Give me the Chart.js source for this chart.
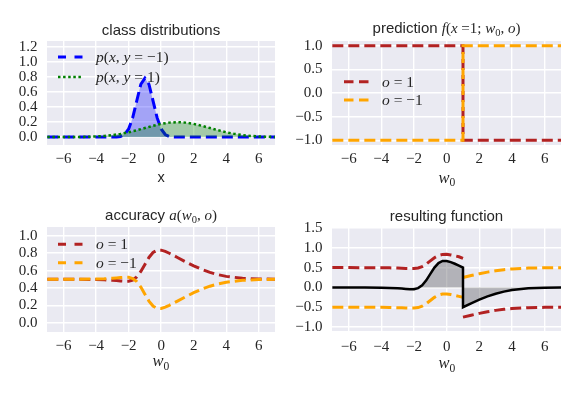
<!DOCTYPE html>
<html><head><meta charset="utf-8">
<script src="https://cdn.jsdelivr.net/npm/chart.js@4/dist/chart.umd.min.js"></script>
<style>
html,body{margin:0;padding:0;background:#fff;width:581px;height:394px;overflow:hidden}
canvas{position:absolute;left:0;top:0}
</style></head>
<body>
<canvas id="c1" width="581" height="394"></canvas>
<canvas id="c2" width="581" height="394"></canvas>
<canvas id="c3" width="581" height="394"></canvas>
<canvas id="c4" width="581" height="394"></canvas>
<script>
// ---------------- data ----------------
const xTicks = [-6, -4, -2, 0, 2, 4, 6];
const yTicksDist = [0.0, 0.2, 0.4, 0.6, 0.8, 1.0, 1.2];
const yTicksPred = [-1.0, -0.5, 0.0, 0.5, 1.0];
const yTicksAcc = [0.0, 0.2, 0.4, 0.6, 0.8, 1.0];
const yTicksRes = [-1.0, -0.5, 0.0, 0.5, 1.0, 1.5];

// class distributions
const xNeg = [-7, -6, -5, -4, -3.5, -3, -2.75, -2.5, -2.25, -2, -1.75, -1.5, -1.25, -1, -0.75, -0.5, -0.25, 0, 0.25, 0.5, 0.75, 1, 1.5, 2, 3, 4, 5, 6, 7];
const pNeg = [0, 0, 0, 0, 0, 0.0003, 0.0017, 0.0089, 0.035, 0.108, 0.259, 0.484, 0.704, 0.785, 0.704, 0.484, 0.259, 0.108, 0.035, 0.0089, 0.0017, 0.0003, 0, 0, 0, 0, 0, 0, 0];
const xPos = [-7, -6.5, -6, -5.5, -5, -4.5, -4, -3.5, -3, -2.5, -2, -1.5, -1, -0.5, 0, 0.5, 1, 1.5, 2, 2.5, 3, 3.5, 4, 4.5, 5, 5.5, 6, 6.5, 7];
const pPos = [0.0001, 0.0002, 0.0004, 0.001, 0.0022, 0.0045, 0.0088, 0.0159, 0.027, 0.0432, 0.0648, 0.0913, 0.121, 0.1506, 0.176, 0.193, 0.1995, 0.193, 0.176, 0.1506, 0.121, 0.0913, 0.0648, 0.0432, 0.027, 0.0159, 0.0088, 0.0045, 0.0022];

// prediction f(x=1; w0, o)
const w0Step = [-7, 1, 1, 7];
const predO1 = [1, 1, -1, -1];
const predOm1 = [-1, -1, 1, 1];

// accuracy a(w0, o)
const w0Acc = [-7, -6, -5, -4, -3.5, -3, -2.75, -2.5, -2.25, -2, -1.75, -1.5, -1.25, -1, -0.75, -0.5, -0.25, 0, 0.25, 0.5, 0.75, 1, 1.5, 2, 2.5, 3, 3.5, 4, 5, 6, 7];
const accO1 = [0.5, 0.4999, 0.4993, 0.4969, 0.4939, 0.4886, 0.4849, 0.4806, 0.4771, 0.478, 0.4911, 0.5265, 0.5891, 0.6707, 0.7503, 0.8074, 0.8336, 0.8344, 0.82, 0.7987, 0.7747, 0.75, 0.7006, 0.6543, 0.6133, 0.5793, 0.5528, 0.5334, 0.5114, 0.5031, 0.5007];
const accOm1 = [0.5, 0.5001, 0.5007, 0.5031, 0.5061, 0.5114, 0.5151, 0.5194, 0.5229, 0.522, 0.5089, 0.4735, 0.4109, 0.3293, 0.2497, 0.1926, 0.1664, 0.1656, 0.18, 0.2013, 0.2253, 0.25, 0.2994, 0.3457, 0.3867, 0.4207, 0.4472, 0.4666, 0.4886, 0.4969, 0.4993];

// resulting function
const w0ResD = [-7, -6, -5, -4, -3.5, -3, -2.75, -2.5, -2.25, -2, -1.75, -1.5, -1.25, -1, -0.75, -0.5, -0.25, 0, 0.25, 0.5, 0.75, 1, 1, 1, 1.5, 2, 2.5, 3, 3.5, 4, 5, 6, 7];
const resO1 = [0.5, 0.4999, 0.4993, 0.4969, 0.4939, 0.4886, 0.4849, 0.4806, 0.4771, 0.478, 0.4911, 0.5265, 0.5891, 0.6707, 0.7503, 0.8074, 0.8336, 0.8344, 0.82, 0.7987, 0.7747, 0.735, null, -0.75, -0.7006, -0.6543, -0.6133, -0.5793, -0.5528, -0.5334, -0.5114, -0.5031, -0.5007];
const resOm1 = [-0.5, -0.5001, -0.5007, -0.5031, -0.5061, -0.5114, -0.5151, -0.5194, -0.5229, -0.522, -0.5089, -0.4735, -0.4109, -0.3293, -0.2497, -0.1926, -0.1664, -0.1656, -0.18, -0.2013, -0.2253, -0.25, null, 0.25, 0.2994, 0.3457, 0.3867, 0.4207, 0.4472, 0.4666, 0.4886, 0.4969, 0.4993];
const w0Res = [-7, -6, -5, -4, -3.5, -3, -2.75, -2.5, -2.25, -2, -1.75, -1.5, -1.25, -1, -0.75, -0.5, -0.25, 0, 0.25, 0.5, 0.75, 1, 1, 1.5, 2, 2.5, 3, 3.5, 4, 5, 6, 7];
const resSum = [0, -0.0002, -0.0014, -0.0062, -0.0122, -0.0228, -0.0302, -0.0388, -0.0458, -0.044, -0.0178, 0.053, 0.1782, 0.3414, 0.5006, 0.6148, 0.6672, 0.6688, 0.64, 0.5974, 0.5494, 0.5, -0.5, -0.4012, -0.3086, -0.2266, -0.1586, -0.1056, -0.0668, -0.0228, -0.0062, -0.0014];

// ---------------- styling helpers ----------------
const SANS = '"Liberation Sans", Arial, sans-serif';
const SERIF = '"Liberation Serif", "Times New Roman", serif';
const TXT = '#262626';
const BG = '#EAEAF2';
const RED = '#b22222', ORANGE = '#ffa500';

function pts(xs, ys) { return xs.map((x, i) => ({ x: x, y: ys[i] })); }
function fmtMinus(s) { return String(s).replace('-', '\u2212'); }

function fontOf(k, size) {
  if (k === 'sans') return size + 'px ' + SANS;
  if (k === 'it') return 'italic ' + size + 'px ' + SERIF;
  return size + 'px ' + SERIF;
}
function drawRich(ctx, segs, x, y, align, size) {
  let total = 0;
  const items = segs.map(s => {
    const sz = s.sub ? size * 0.7 : (s.size || size);
    ctx.font = fontOf(s.k, sz);
    const w = ctx.measureText(s.t).width;
    total += w;
    return { s: s, sz: sz, w: w };
  });
  let cx = align === 'center' ? x - total / 2 : x;
  ctx.save();
  ctx.fillStyle = TXT;
  ctx.textAlign = 'left';
  ctx.textBaseline = 'alphabetic';
  for (const it of items) {
    ctx.font = fontOf(it.s.k, it.sz);
    ctx.fillText(it.s.t, cx, y + (it.s.sub ? size * 0.22 : 0));
    cx += it.w;
  }
  ctx.restore();
}

const bgPlugin = {
  id: 'axbg',
  beforeDraw(chart) {
    const a = chart.chartArea, c = chart.ctx;
    c.save(); c.fillStyle = BG; c.fillRect(a.left, a.top, a.right - a.left, a.bottom - a.top); c.restore();
  }
};

function decoPlugin(deco) {
  return {
    id: 'deco',
    afterDraw(chart) {
      const c = chart.ctx;
      drawRich(c, deco.title.segs, deco.title.x, deco.title.y, 'center', deco.title.size || 14.5);
      drawRich(c, deco.xlabel.segs, deco.xlabel.x, deco.xlabel.y, 'center', deco.xlabel.size || 16.5);
      (deco.legend || []).forEach(l => {
        c.save();
        c.strokeStyle = l.color; c.lineWidth = l.lw; c.setLineDash(l.dash);
        c.beginPath(); c.moveTo(l.x0, l.y); c.lineTo(l.x0 + 25, l.y); c.stroke();
        c.restore();
        drawRich(c, l.segs, l.x0 + 38, l.y + 5, 'left', 15.5);
      });
    }
  };
}

function makeChart(id, box, yr, yTicks, datasets, deco, xpad) {
  const W = 581, H = 394, YW = 40, XH = 40;
  return new Chart(document.getElementById(id), {
    type: 'line',
    data: { datasets: datasets },
    options: {
      responsive: false, animation: false, devicePixelRatio: 1,
      layout: { padding: { left: box.l - YW, top: box.t, right: W - box.r, bottom: H - box.b - XH } },
      plugins: { legend: { display: false }, title: { display: false }, tooltip: { enabled: false } },
      elements: { point: { radius: 0 }, line: { tension: 0 } },
      scales: {
        x: {
          type: 'linear', min: -7.02, max: 7.0,
          afterFit: s => { s.height = XH; },
          afterBuildTicks: s => { s.ticks = xTicks.map(v => ({ value: v })); },
          grid: { color: '#ffffff', lineWidth: 1.4, drawTicks: false },
          border: { display: false },
          ticks: { padding: xpad, color: TXT, autoSkip: false, maxRotation: 0,
                   font: { family: SERIF, size: 15 },
                   callback: v => fmtMinus(v) }
        },
        y: {
          type: 'linear', min: yr[0], max: yr[1],
          afterFit: s => { s.width = YW; },
          afterBuildTicks: s => { s.ticks = yTicks.map(v => ({ value: v })); },
          grid: { color: '#ffffff', lineWidth: 1.4, drawTicks: false },
          border: { display: false },
          ticks: { padding: 9.5, color: TXT, autoSkip: false,
                   font: { family: SERIF, size: 15 },
                   callback: v => fmtMinus(Number(v).toFixed(1)) }
        }
      }
    },
    plugins: [bgPlugin, decoPlugin(deco)]
  });
}

const DASH = [11, 5];

// ---- chart 1: class distributions ----
makeChart('c1', { l: 47, t: 41, r: 275, b: 145 }, [-0.105, 1.28], yTicksDist, [
  { data: pts(xPos, pPos), borderColor: 'green', borderWidth: 2.5, borderDash: [2.5, 2.6],
    fill: 'origin', backgroundColor: 'rgba(0,128,0,0.3)', order: 1 },
  { data: pts(xNeg, pNeg), borderColor: 'blue', borderWidth: 3, borderDash: DASH,
    fill: 'origin', backgroundColor: 'rgba(0,0,255,0.3)', order: 2 }
], {
  title: { x: 161, y: 34.5, size: 15, segs: [{ t: 'class distributions', k: 'sans' }] },
  xlabel: { x: 161, y: 182, size: 14.5, segs: [{ t: 'x', k: 'sans' }] },
  legend: [
    { x0: 58, y: 57, color: 'blue', lw: 3, dash: [8, 8.5],
      segs: [{ t: 'p', k: 'it' }, { t: '(', k: 'rm' }, { t: 'x', k: 'it' }, { t: ', ', k: 'rm' }, { t: 'y', k: 'it' }, { t: ' = \u22121)', k: 'rm' }] },
    { x0: 58, y: 77, color: 'green', lw: 2.5, dash: [2.5, 2.6],
      segs: [{ t: 'p', k: 'it' }, { t: '(', k: 'rm' }, { t: 'x', k: 'it' }, { t: ', ', k: 'rm' }, { t: 'y', k: 'it' }, { t: ' = 1)', k: 'rm' }] }
  ]
}, 5.5);

// ---- chart 2: prediction ----
makeChart('c2', { l: 332, t: 41, r: 561, b: 145 }, [-1.1, 1.1], yTicksPred, [
  { data: pts(w0Step, predOm1), borderColor: ORANGE, borderWidth: 3, borderDash: DASH, fill: false, order: 1 },
  { data: pts(w0Step, predO1), borderColor: RED, borderWidth: 3, borderDash: DASH, fill: false, order: 2 }
], {
  title: { x: 446.5, y: 33, size: 15, segs: [{ t: 'prediction ', k: 'sans' }, { t: 'f', k: 'it' }, { t: '(', k: 'rm' }, { t: 'x', k: 'it' }, { t: ' =1; ', k: 'rm' }, { t: 'w', k: 'it' }, { t: '0', k: 'rm', sub: true }, { t: ', ', k: 'rm' }, { t: 'o', k: 'it' }, { t: ')', k: 'rm' }] },
  xlabel: { x: 447, y: 182.5, segs: [{ t: 'w', k: 'it' }, { t: '0', k: 'rm', sub: true }] },
  legend: [
    { x0: 344, y: 81.7, color: RED, lw: 3, dash: [9.5, 5.5], segs: [{ t: 'o', k: 'it' }, { t: ' = 1', k: 'rm' }] },
    { x0: 344, y: 100, color: ORANGE, lw: 3, dash: [9.5, 5.5], segs: [{ t: 'o', k: 'it' }, { t: ' = \u22121', k: 'rm' }] }
  ]
}, 5);

// ---- chart 3: accuracy ----
makeChart('c3', { l: 47, t: 227, r: 275, b: 332 }, [-0.105, 1.1], yTicksAcc, [
  { data: pts(w0Acc, accOm1), borderColor: ORANGE, borderWidth: 3, borderDash: DASH, fill: false, order: 1 },
  { data: pts(w0Acc, accO1), borderColor: RED, borderWidth: 3, borderDash: DASH, fill: false, order: 2 }
], {
  title: { x: 161, y: 219.5, size: 15, segs: [{ t: 'accuracy ', k: 'sans' }, { t: 'a', k: 'it' }, { t: '(', k: 'rm' }, { t: 'w', k: 'it' }, { t: '0', k: 'rm', sub: true }, { t: ', ', k: 'rm' }, { t: 'o', k: 'it' }, { t: ')', k: 'rm' }] },
  xlabel: { x: 161, y: 366, segs: [{ t: 'w', k: 'it' }, { t: '0', k: 'rm', sub: true }] },
  legend: [
    { x0: 58, y: 244.3, color: RED, lw: 3, dash: [8, 8.5], segs: [{ t: 'o', k: 'it' }, { t: ' = 1', k: 'rm' }] },
    { x0: 58, y: 262.7, color: ORANGE, lw: 3, dash: [8, 8.5], segs: [{ t: 'o', k: 'it' }, { t: ' = \u22121', k: 'rm' }] }
  ]
}, 5);

// ---- chart 4: resulting function ----
makeChart('c4', { l: 332, t: 228, r: 561, b: 331 }, [-1.1, 1.5], yTicksRes, [
  { data: pts(w0Res, resSum), borderColor: '#000000', borderWidth: 2.5, fill: 'origin',
    backgroundColor: 'rgba(100,100,105,0.42)', order: 1 },
  { data: pts(w0ResD, resOm1), borderColor: ORANGE, borderWidth: 3, borderDash: DASH, fill: false, spanGaps: false, order: 2 },
  { data: pts(w0ResD, resO1), borderColor: RED, borderWidth: 3, borderDash: DASH, fill: false, spanGaps: false, order: 3 }
], {
  title: { x: 446.5, y: 221, size: 15, segs: [{ t: 'resulting function', k: 'sans' }] },
  xlabel: { x: 447, y: 368, segs: [{ t: 'w', k: 'it' }, { t: '0', k: 'rm', sub: true }] },
  legend: []
}, 7);
</script>
</body></html>
